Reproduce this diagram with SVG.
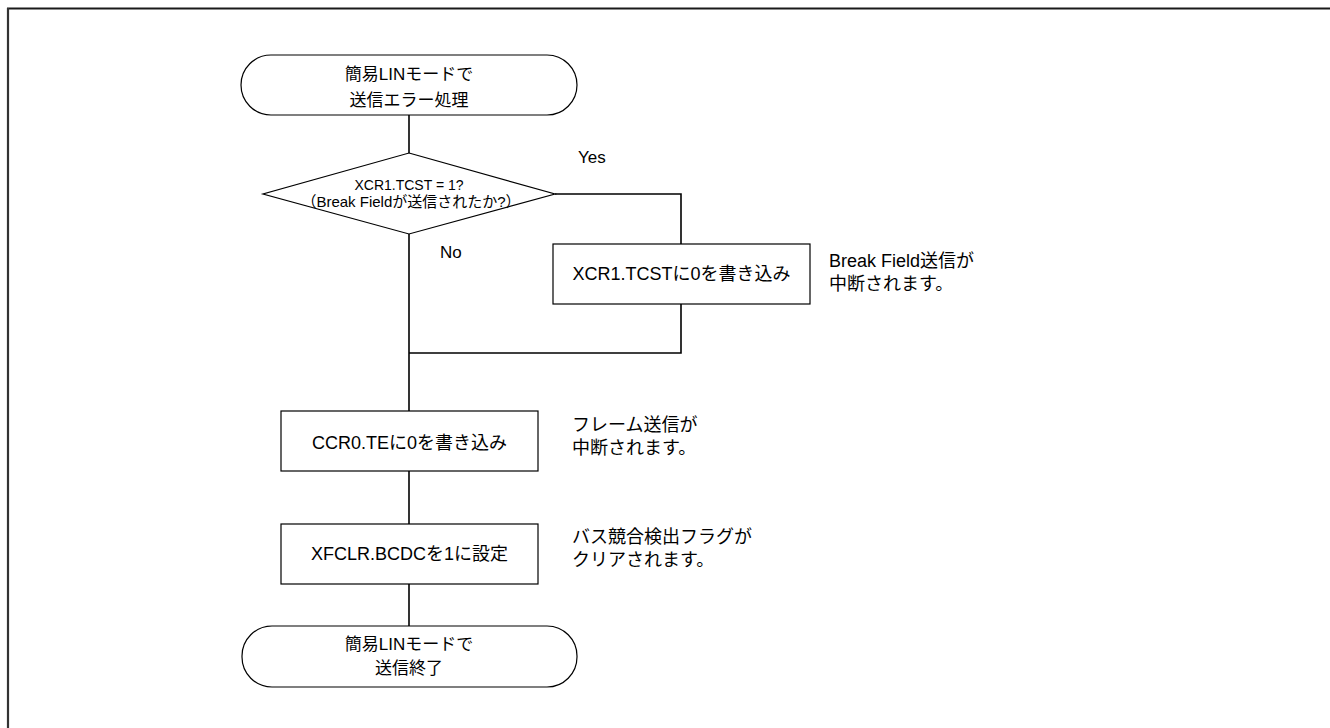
<svg xmlns="http://www.w3.org/2000/svg" width="1330" height="728" viewBox="0 0 1330 728">
<style>
.shape{fill:#fff;stroke:#000;stroke-width:1.2}
.conn{fill:none;stroke:#000;stroke-width:1.6}
text{font-family:"Liberation Sans","Noto Sans CJK JP",sans-serif;fill:#000}
.t17{font-size:17px;text-anchor:middle}
.t18{font-size:18px;text-anchor:middle}
.t14{font-size:14px;text-anchor:middle}
.t15{font-size:15px;text-anchor:middle}
.note{font-size:18px}
.lbl{font-size:17px}
</style>
<rect width="1330" height="728" fill="#fff"/>
<g id="frame">
<line x1="7" y1="8.5" x2="1330" y2="8.5" stroke="#1a1a1a" stroke-width="2.2"/>
<line x1="8" y1="8" x2="8" y2="728" stroke="#333" stroke-width="2.2"/>
</g>
<g id="connectors">
<line class="conn" x1="409" y1="115" x2="409" y2="153"/>
<polyline class="conn" points="555,194 681,194 681,244"/>
<polyline class="conn" points="681,304 681,353 409,353"/>
<line class="conn" x1="409" y1="234" x2="409" y2="411"/>
<line class="conn" x1="409" y1="471" x2="409" y2="524"/>
<line class="conn" x1="409" y1="584" x2="409" y2="626"/>
<text class="lbl" x="578" y="163">Yes</text>
<text class="lbl" x="440" y="258">No</text>
</g>
<g id="start">
<rect class="shape" x="241" y="55" width="336" height="60" rx="30" ry="30"/>
<text class="t17" x="409" y="80">簡易LINモードで</text>
<text class="t17" x="409" y="106">送信エラー処理</text>
</g>
<g id="decision">
<polygon class="shape" points="409,153 555,194 409,234 263,194"/>
<text class="t14" x="409" y="190">XCR1.TCST = 1?</text>
<text class="t15" x="411" y="207">（Break Fieldが送信されたか?）</text>
</g>
<g id="clear-tcst">
<rect class="shape" x="553" y="244" width="257" height="60"/>
<text class="t18" x="681.5" y="280">XCR1.TCSTに0を書き込み</text>
</g>
<g id="note-tcst">
<text class="note" x="829" y="267">Break Field送信が</text>
<text class="note" x="829" y="290">中断されます。</text>
</g>
<g id="clear-te">
<rect class="shape" x="281" y="411" width="257" height="60"/>
<text class="t18" x="409.5" y="449">CCR0.TEに0を書き込み</text>
</g>
<g id="note-te">
<text class="note" x="572" y="431">フレーム送信が</text>
<text class="note" x="572" y="454">中断されます。</text>
</g>
<g id="set-bcdc">
<rect class="shape" x="281" y="524" width="257" height="60"/>
<text class="t18" x="409.5" y="560">XFCLR.BCDCを1に設定</text>
</g>
<g id="note-bcdc">
<text class="note" x="572" y="543">バス競合検出フラグが</text>
<text class="note" x="572" y="566">クリアされます。</text>
</g>
<g id="end">
<rect class="shape" x="242" y="626" width="335" height="61" rx="30" ry="30"/>
<text class="t17" x="409" y="650">簡易LINモードで</text>
<text class="t17" x="409" y="674">送信終了</text>
</g>
</svg>
